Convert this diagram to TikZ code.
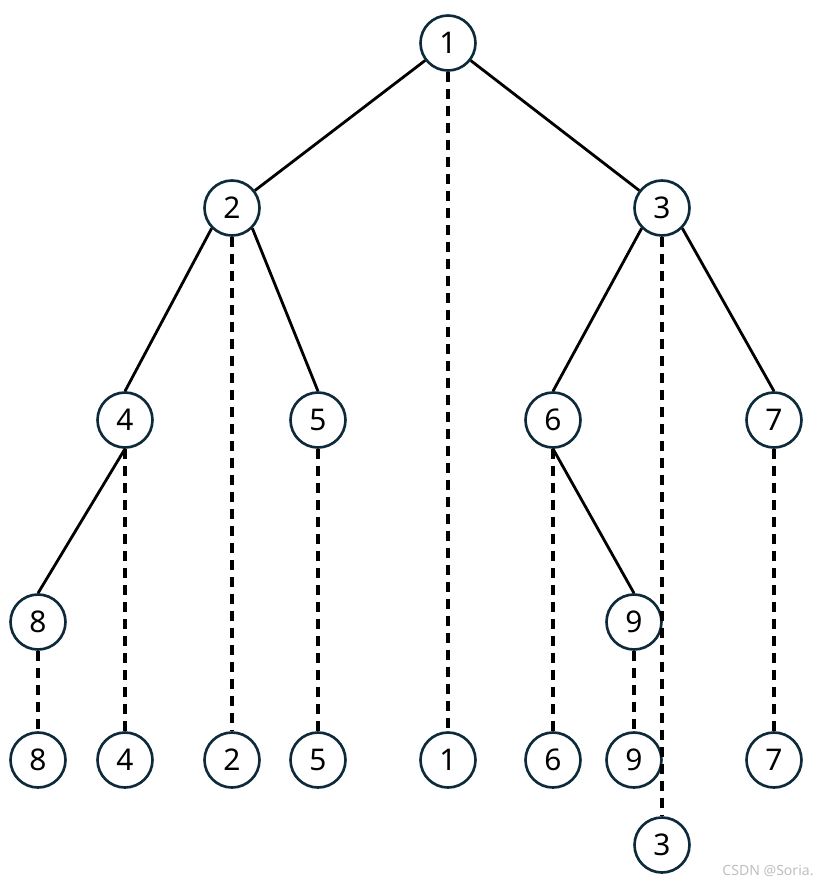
\documentclass[tikz,border=0pt]{standalone}
\usepackage{fontspec}
\setmainfont{Noto Sans}
\definecolor{ringcol}{HTML}{0D2A3A}

\begin{document}
\begin{tikzpicture}[x=0.02cm, y=-0.02cm, every node/.style={circle, draw=ringcol, line width=1.5pt, fill=white, minimum size=1.1cm, inner sep=0pt, font=\fontsize{17}{17}\selectfont}]
	\useasboundingbox (0,0) rectangle (828,887);
	\tikzset{tree/.style={black, line width=1.6pt}, link/.style={black, line width=1.8pt, dash pattern=on 0.2cm off 0.14cm}}
	
	\node (v1) at (448, 43) {1};
	\node (v2) at (232, 208) {2};
	\node (v3) at (662, 208) {3};
	\node (v4) at (125, 420) {4};
	\node (v5) at (318, 420) {5};
	\node (v6) at (553, 420) {6};
	\node (v7) at (774, 420) {7};
	\node (v8) at (38, 622) {8};
	\node (v9) at (634, 622) {9};
	
	\node (w8) at (38, 760) {8};
	\node (w4) at (125, 760) {4};
	\node (w2) at (232, 760) {2};
	\node (w5) at (318, 760) {5};
	\node (w1) at (448, 760) {1};
	\node (w6) at (553, 760) {6};
	\node (w9) at (634, 760) {9};
	\node (w7) at (774, 760) {7};
	\node (w3) at (662, 845) {3};
	
	\draw[tree] (v1) -- (v2);
	\draw[tree] (v1) -- (v3);
	\draw[tree] (v2.south west) -- (v4.north);
	\draw[tree] (v2.south east) -- (v5.north);
	\draw[tree] (v3.south west) -- (v6.north);
	\draw[tree] (v3.south east) -- (v7.north);
	\draw[tree] (v4.south) -- (v8.north);
	\draw[tree] (v6.south) -- (v9.north);
	
	\draw[link] (v1) -- (w1);
	\draw[link] (v2) -- (w2);
	\draw[link] (v3) -- (w3);
	\draw[link] (v4) -- (w4);
	\draw[link] (v5) -- (w5);
	\draw[link] (v6) -- (w6);
	\draw[link] (v7) -- (w7);
	\draw[link] (v8) -- (w8);
	\draw[link] (v9) -- (w9);
	
	\node[draw=none, fill=none, rectangle, minimum size=0pt, inner sep=0pt, text=black!25, font=\fontsize{8}{8}\selectfont] (mark) at (768, 871) {CSDN @Soria.};
\end{tikzpicture}
\end{document}
